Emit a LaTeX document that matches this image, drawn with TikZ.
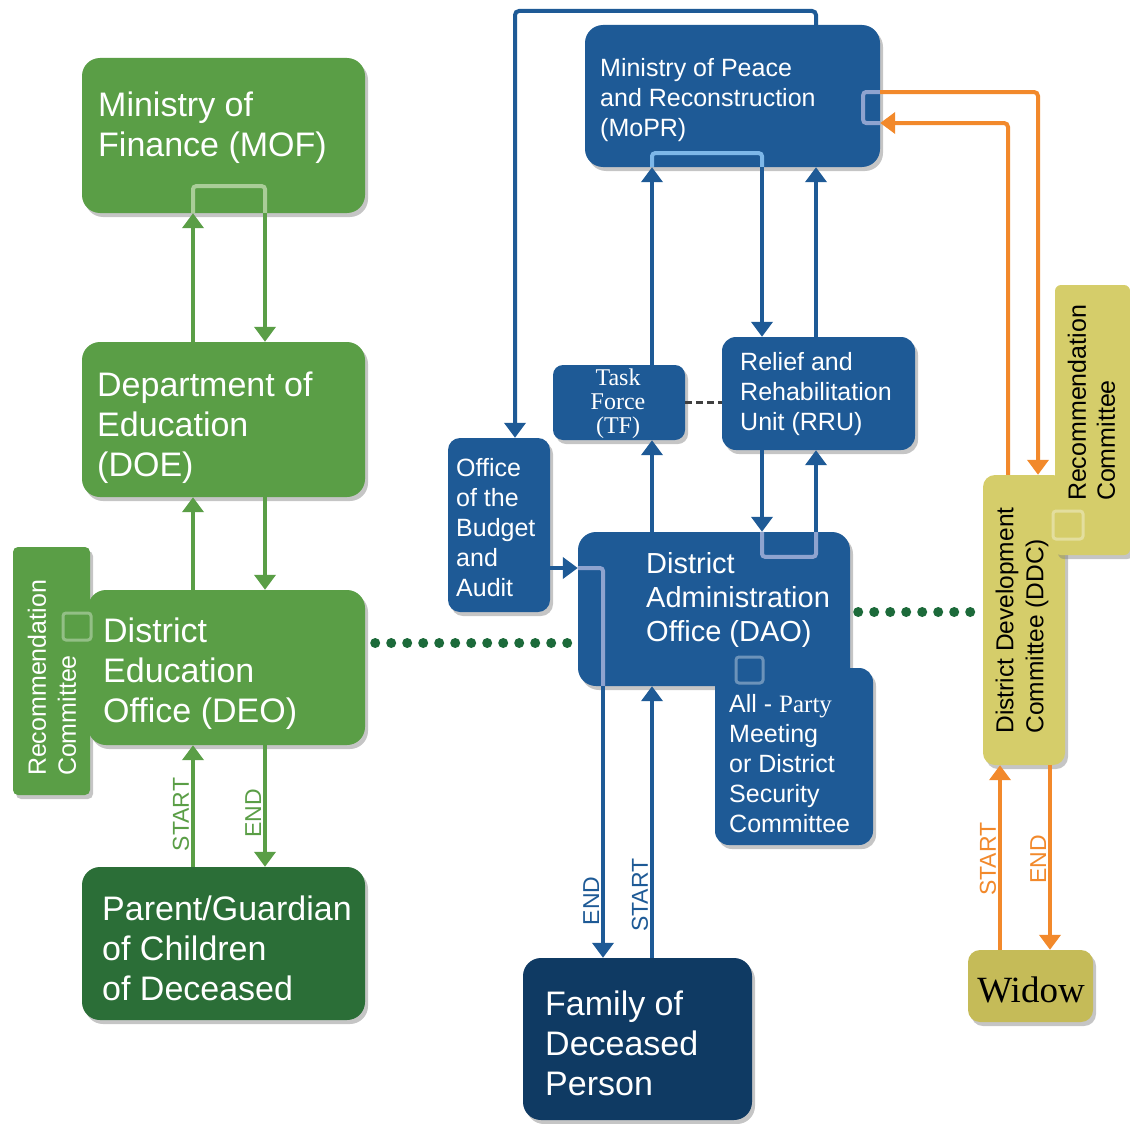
\documentclass[tikz,border=0pt]{standalone}
\usepackage{fontspec}
\setmainfont{Liberation Sans}
\newfontfamily\tnr{Liberation Serif}
\usetikzlibrary{arrows.meta,shadows}

\definecolor{grn}{RGB}{90,158,70}
\definecolor{dkgrn}{RGB}{43,110,55}
\definecolor{dotgrn}{RGB}{28,106,58}
\definecolor{ltgrn}{RGB}{170,205,152}
\definecolor{blu}{RGB}{30,90,150}
\definecolor{navy}{RGB}{15,58,99}
\definecolor{ltblu}{RGB}{125,183,232}
\definecolor{lavblu}{RGB}{142,163,207}
\definecolor{ylw}{RGB}{213,205,106}
\definecolor{olv}{RGB}{197,187,88}
\definecolor{org}{RGB}{242,137,43}

\begin{document}
\begin{tikzpicture}[x=1pt, y=-1pt,
  box/.style={rounded corners=18pt, inner sep=0pt, drop shadow={shadow xshift=3pt, shadow yshift=-4pt, opacity=.45}},
  txt/.style={anchor=west, align=left, inner sep=0pt, text=white},
  bigfont/.style={font=\fontsize{34}{40}\selectfont},
  midfont/.style={font=\fontsize{25}{30}\selectfont},
  lbl/.style={font=\fontsize{23}{23}\selectfont, rotate=90, anchor=south, inner sep=2pt},
  arrtip/.style={-{Triangle[width=21pt,length=15pt]}},
  garrow/.style={draw=grn, line width=4pt, arrtip},
  barrow/.style={draw=blu, line width=4pt, arrtip},
  oarrow/.style={draw=org, line width=4pt, arrtip},
  loopline/.style={line width=4pt, rounded corners=3pt},
  sqr/.style={draw=white, draw opacity=.35, line width=3pt, rounded corners=3pt},
  dotline/.style={draw=dotgrn, line width=10pt, line cap=round, dash pattern=on 0pt off 16pt}]

\fill [white] (0,0) rectangle (1130,1124);
\useasboundingbox (0,0) rectangle (1130,1124);

\coordinate (gup) at (193,0);
\coordinate (gdn) at (265,0);
\coordinate (bfeed) at (515,0);
\coordinate (bend) at (603,0);
\coordinate (bstart) at (652,0);
\coordinate (bdn) at (762,0);
\coordinate (bup) at (816,0);
\coordinate (ostart) at (1000,0);
\coordinate (oend) at (1050,0);
\coordinate (oin) at (1008,0);
\coordinate (oout) at (1038,0);
\coordinate (feed) at (0,11);
\coordinate (oy1) at (0,92);
\coordinate (oy2) at (0,123);
\coordinate (by1) at (0,568);
\coordinate (dotl) at (0,643);
\coordinate (dotr) at (0,612);

\node [box, fill=grn, minimum width=283pt, minimum height=155pt] (mof) at (223.5,135.5) {};
\node [box, fill=grn, minimum width=283pt, minimum height=155pt] (doe) at (223.5,419.5) {};
\node [box, rounded corners=5pt, fill=grn, minimum width=77pt, minimum height=248pt] (recl) at (51.5,671) {};
\node [box, fill=grn, minimum width=277pt, minimum height=155pt] (deo) at (226.5,667.5) {};
\node [box, fill=dkgrn, minimum width=283pt, minimum height=153pt] (parent) at (223.5,943.5) {};

\node [box, fill=blu, minimum width=295pt, minimum height=142pt] (mopr) at (732.5,96) {};
\node [box, rounded corners=10pt, fill=blu, minimum width=132pt, minimum height=75pt] (tf) at (619,402.5) {};
\node [box, rounded corners=14pt, fill=blu, minimum width=193pt, minimum height=113pt] (rru) at (818.5,393.5) {};
\node [box, rounded corners=12pt, fill=blu, minimum width=102pt, minimum height=174pt] (budget) at (499,525) {};
\node [box, fill=blu, minimum width=272pt, minimum height=154pt] (dao) at (714,609) {};
\node [box, rounded corners=14pt, fill=blu, minimum width=158pt, minimum height=177pt] (party) at (794,756.5) {};
\node [box, fill=navy, minimum width=229pt, minimum height=162pt] (family) at (637.5,1039) {};

\node [box, rounded corners=12pt, fill=ylw, minimum width=82pt, minimum height=290pt] (ddc) at (1024,620) {};
\node [box, rounded corners=6pt, fill=ylw, minimum width=75pt, minimum height=270pt] (recr) at (1092.5,420) {};
\node [box, rounded corners=12pt, fill=olv, minimum width=125pt, minimum height=72pt] (widow) at (1030.5,986) {};

\draw [dotline] ([xshift=10pt]deo.east |- dotl) -- ([xshift=-6pt]dao.west |- dotl);
\draw [dotline] ([xshift=8pt]dao.east |- dotr) -- ([xshift=-4pt]ddc.west |- dotr);
\draw [dashed, draw=black!75, line width=2.5pt, dash pattern=on 7pt off 4pt] (tf.east) -- (tf.east -| rru.west);

\node [txt, bigfont] (mof-t) at (98,128) {Ministry of\\Finance (MOF)};
\node [txt, bigfont] (doe-t) at (97,428) {Department of\\Education\\(DOE)};
\node [txt, bigfont] (deo-t) at (103,674) {District\\Education\\Office (DEO)};
\node [txt, bigfont] (parent-t) at (102,948) {Parent/Guardian\\of Children\\of Deceased};
\node [txt, midfont, rotate=90, anchor=center] (recl-t) at (52,678) {Recommendation\\Committee};

\node [txt, midfont] (mopr-t) at (600,100) {Ministry of Peace\\and Reconstruction\\(MoPR)};
\node [txt, align=center, anchor=center, font=\tnr\fontsize{24}{24}\selectfont] (tf-t) at (618,404) {Task\\Force\\(TF)};
\node [txt, midfont] (rru-t) at (740,394) {Relief and\\Rehabilitation\\Unit (RRU)};
\node [txt, midfont] (budget-t) at (456,528) {Office\\of the\\Budget\\and\\Audit};
\node [txt, font=\fontsize{29}{34}\selectfont] (dao-t) at (646,600) {District\\Administration\\Office (DAO)};
\node [txt, midfont] (party-t) at (729,764) {All - {\tnr Party}\\Meeting\\or District\\Security\\Committee};
\node [txt, bigfont] (family-t) at (545,1043) {Family of\\Deceased\\Person};

\node [txt, text=black, rotate=90, anchor=center, font=\fontsize{24.5}{30}\selectfont] (ddc-t) at (1022,620.5) {District Development\\Committee (DDC)};
\node [txt, text=black, rotate=90, anchor=center, font=\fontsize{25}{29}\selectfont] (recr-t) at (1091.5,403) {Recommendation\\Committee};
\node [txt, text=black, anchor=center, font=\tnr\fontsize{37}{40}\selectfont] (widow-t) at (1031,990) {Widow};

\draw [sqr] (63,613) rectangle (91,640);
\draw [sqr] (1053,511) rectangle (1083,539);
\draw [sqr] (736,657) rectangle (763,683);

\draw [loopline, draw=ltgrn] (mof.south -| gup) -- ++(0,-27) -| (mof.south -| gdn);
\draw [loopline, draw=ltblu] (mopr.south -| bstart) -- ++(0,-14) -| (mopr.south -| bdn);
\draw [loopline, draw=lavblu] (dao.north -| bdn) -- ++(0,25) -| (dao.north -| bup);
\draw [loopline, draw=lavblu] (dao.west |- by1) -| (dao.south -| bend);
\draw [loopline, draw=lavblu] (mopr.east |- oy1) -- ++(-17,0) |- (mopr.east |- oy2);

\draw [garrow] (doe.north -| gup) -- (mof.south -| gup);
\draw [garrow] (mof.south -| gdn) -- (doe.north -| gdn);
\draw [garrow] (deo.north -| gup) -- (doe.south -| gup);
\draw [garrow] (doe.south -| gdn) -- (deo.north -| gdn);
\draw [garrow] (parent.north -| gup) -- node [lbl, text=grn, pos=.43] {START} (deo.south -| gup);
\draw [garrow] (deo.south -| gdn) -- node [lbl, text=grn, pos=.56] {END} (parent.north -| gdn);

\draw [barrow, rounded corners=4pt] (mopr.north -| bup) -- (bup |- feed) -| (budget.north -| bfeed);
\draw [barrow] (tf.north -| bstart) -- (mopr.south -| bstart);
\draw [barrow] (mopr.south -| bdn) -- (rru.north -| bdn);
\draw [barrow] (rru.north -| bup) -- (mopr.south -| bup);
\draw [barrow] (dao.north -| bstart) -- (tf.south -| bstart);
\draw [barrow] (rru.south -| bdn) -- (dao.north -| bdn);
\draw [barrow] (dao.north -| bup) -- (rru.south -| bup);
\draw [barrow] (budget.east |- by1) -- (dao.west |- by1);
\draw [barrow] (dao.south -| bend) -- node [lbl, text=blu, pos=.79] {END} (family.north -| bend);
\draw [barrow] (family.north -| bstart) -- node [lbl, text=blu, pos=.23] {START} (dao.south -| bstart);

\draw [oarrow, rounded corners=4pt] (ddc.north -| oin) |- (mopr.east |- oy2);
\draw [oarrow, rounded corners=4pt] (mopr.east |- oy1) -| (ddc.north -| oout);
\draw [oarrow] (widow.north -| ostart) -- node [lbl, text=org, pos=.49] {START} (ddc.south -| ostart);
\draw [oarrow] (ddc.south -| oend) -- node [lbl, text=org, pos=.51] {END} (widow.north -| oend);
\end{tikzpicture}
\end{document}
